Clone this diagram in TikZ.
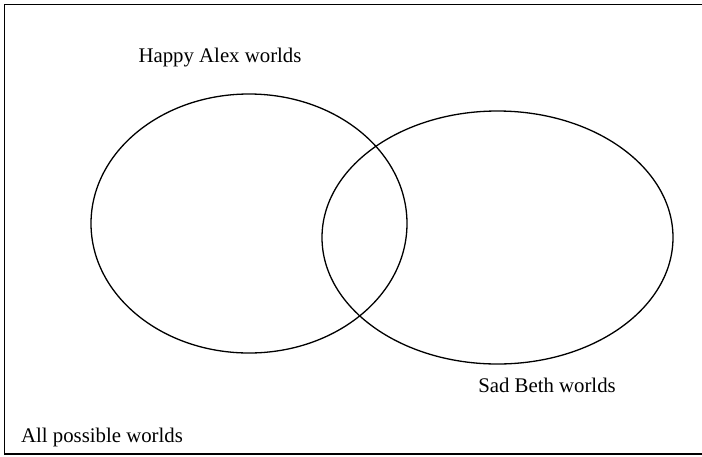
\documentclass[tikz,border=0pt]{standalone}
\usepackage{fontspec}
\setmainfont{Liberation Serif}
\begin{document}
\begin{tikzpicture}[x=1pt,y=-1pt,
  lbl/.style={font=\fontsize{20.8}{24}\selectfont, inner sep=0pt},
  setshape/.style={draw, line width=1.3pt}]
\useasboundingbox (0,0) rectangle (702,456);
\draw[line width=1.3pt] (4.5,4.5) rectangle (703,454);
\draw[setshape] (249,223.5) ellipse [x radius=158, y radius=129.5];
\draw[setshape] (497.5,237.5) ellipse [x radius=175.5, y radius=126.5];
\node[lbl] (alex) at (220,58) {Happy Alex worlds};
\node[lbl] (beth) at (547,385) {Sad Beth worlds};
\node[lbl] (all) at (102,437) {All possible worlds};
\end{tikzpicture}
\end{document}
